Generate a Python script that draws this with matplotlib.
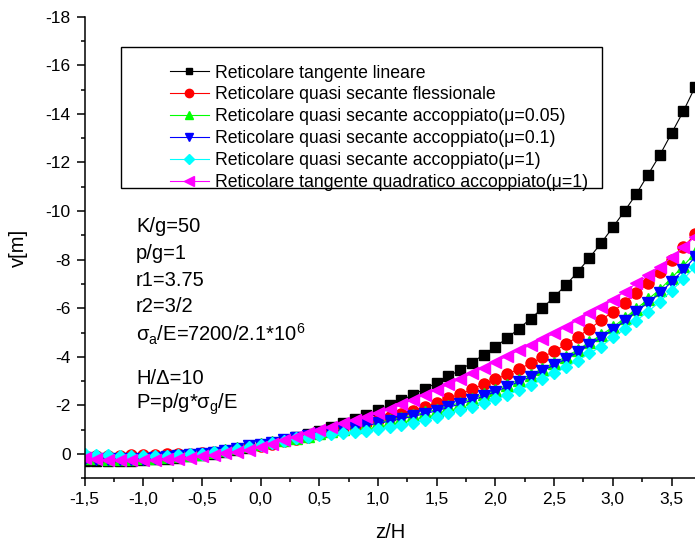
import matplotlib
matplotlib.use("Agg")
import matplotlib.pyplot as plt
from matplotlib.ticker import MultipleLocator, FuncFormatter
from matplotlib.patches import Rectangle

plt.rcParams['font.family'] = ['Liberation Sans', 'DejaVu Sans']

# z/H positions of the computed points
z = [-1.5, -1.4, -1.3, -1.2, -1.1, -1.0, -0.9, -0.8, -0.7, -0.6, -0.5, -0.4,
     -0.3, -0.2, -0.1, 0.0, 0.1, 0.2, 0.3, 0.4, 0.5, 0.6, 0.7, 0.8, 0.9,
     1.0, 1.1, 1.2, 1.3, 1.4, 1.5, 1.6, 1.7, 1.8, 1.9, 2.0, 2.1, 2.2, 2.3,
     2.4, 2.5, 2.6, 2.7, 2.8, 2.9, 3.0, 3.1, 3.2, 3.3, 3.4, 3.5, 3.6, 3.7]

# v[m] for each model
v_tan_lin = [0.29, 0.29, 0.29, 0.28, 0.27, 0.25, 0.22, 0.19, 0.15, 0.10, 0.05, -0.02, -0.09, -0.17, -0.26,
             -0.36, -0.46, -0.57, -0.69, -0.82, -0.96, -1.11, -1.27, -1.44, -1.62,
             -1.81, -2.01, -2.22, -2.44, -2.68, -2.93, -3.20, -3.46, -3.76, -4.09,
             -4.42, -4.77, -5.16, -5.57, -6.00, -6.47, -6.95, -7.49, -8.07, -8.68,
             -9.33, -10.0, -10.7, -11.5, -12.3, -13.2, -14.1, -15.1]
v_qs_fless = [0.10, 0.09, 0.08, 0.07, 0.06, 0.05, 0.04, 0.02, 0.00, -0.02, -0.05, -0.09, -0.14, -0.20, -0.27,
              -0.35, -0.43, -0.52, -0.62, -0.72, -0.83, -0.94, -1.05, -1.16, -1.28,
              -1.40, -1.53, -1.65, -1.78, -1.94, -2.11, -2.29, -2.47, -2.66, -2.87,
              -3.07, -3.28, -3.50, -3.73, -3.98, -4.24, -4.51, -4.83, -5.14, -5.51,
              -5.86, -6.23, -6.61, -7.03, -7.50, -7.98, -8.50, -9.05]
v_qs_mu005 = [0.16, 0.18, 0.19, 0.19, 0.19, 0.18, 0.16, 0.13, 0.09, 0.05, -0.01, -0.07, -0.15, -0.23, -0.32,
              -0.40, -0.49, -0.58, -0.67, -0.76, -0.85, -0.94, -1.03, -1.12, -1.21,
              -1.30, -1.39, -1.49, -1.60, -1.71, -1.83, -1.97, -2.12, -2.28, -2.45,
              -2.63, -2.84, -3.05, -3.26, -3.51, -3.75, -4.00, -4.29, -4.59, -4.90,
              -5.22, -5.59, -5.98, -6.37, -6.77, -7.25, -7.74, -8.27]
v_qs_mu01 = [0.17, 0.19, 0.20, 0.20, 0.20, 0.19, 0.17, 0.14, 0.10, 0.06, 0.00, -0.06, -0.14, -0.22, -0.31,
             -0.38, -0.47, -0.56, -0.65, -0.74, -0.83, -0.92, -1.01, -1.09, -1.18,
             -1.26, -1.35, -1.45, -1.55, -1.66, -1.78, -1.92, -2.06, -2.21, -2.38,
             -2.56, -2.77, -2.98, -3.18, -3.43, -3.66, -3.91, -4.19, -4.49, -4.79,
             -5.10, -5.47, -5.86, -6.23, -6.61, -7.09, -7.57, -8.10]
v_qs_mu1 = [0.00, 0.03, 0.05, 0.07, 0.08, 0.08, 0.08, 0.07, 0.05, 0.02, -0.02, -0.07, -0.13, -0.20, -0.28,
            -0.37, -0.46, -0.55, -0.64, -0.72, -0.78, -0.82, -0.86, -0.90, -0.95,
            -1.02, -1.10, -1.19, -1.29, -1.40, -1.53, -1.67, -1.81, -1.95, -2.09,
            -2.25, -2.43, -2.63, -2.84, -3.07, -3.32, -3.57, -3.84, -4.14, -4.42,
            -4.80, -5.13, -5.49, -5.86, -6.27, -6.72, -7.20, -7.70]
v_tan_quad = [0.16, 0.20, 0.23, 0.25, 0.25, 0.25, 0.24, 0.22, 0.19, 0.15, 0.10, 0.04, -0.03, -0.10, -0.18,
              -0.30, -0.42, -0.56, -0.70, -0.85, -0.99, -1.12, -1.26, -1.40, -1.53,
              -1.67, -1.85, -2.04, -2.24, -2.44, -2.65, -2.87, -3.09, -3.32, -3.56,
              -3.80, -4.03, -4.27, -4.49, -4.72, -4.97, -5.24, -5.51, -5.79, -6.06,
              -6.34, -6.68, -7.02, -7.35, -7.71, -8.10, -8.50, -8.95]

labels = ['Reticolare tangente lineare',
          'Reticolare quasi secante flessionale',
          'Reticolare quasi secante accoppiato(\u03bc=0.05)',
          'Reticolare quasi secante accoppiato(\u03bc=0.1)',
          'Reticolare quasi secante accoppiato(\u03bc=1)',
          'Reticolare tangente quadratico accoppiato(\u03bc=1)']

params = ['K/g=50', 'p/g=1', 'r1=3.75', 'r2=3/2',
          '\u03c3$_\\mathregular{a}$/E=7200/2.1*10$^\\mathregular{6}$',
          'H/\u0394=10', 'P=p/g*\u03c3$_\\mathregular{g}$/E']

W, H = 695, 548
fig = plt.figure(figsize=(W / 100, H / 100), dpi=100)
ax = fig.add_axes([84.5 / W, 1 - 478.3 / H, (W - 84.5) / W, (478.3 - 16.7) / H])

series = [(v_tan_lin, 'black', 's', 6.5),
          (v_qs_fless, 'red', 'o', 8),
          (v_qs_mu005, '#00ff00', '^', 8.5),
          (v_qs_mu01, 'blue', 'v', 8.5),
          (v_qs_mu1, 'cyan', 'D', 6.5),
          (v_tan_quad, 'magenta', '<', 9)]
for (v, c, m, ms), lab in zip(series, labels):
    ax.plot(z, v, color=c, marker=m, markersize=ms, lw=0.8, mec=c, mfc=c,
            label=lab)

ax.set_xlim(-1.5, 3.7)
ax.set_ylim(1, -18)
ax.xaxis.set_major_locator(MultipleLocator(0.5))
ax.xaxis.set_minor_locator(MultipleLocator(0.25))
ax.yaxis.set_major_locator(MultipleLocator(2))
ax.yaxis.set_minor_locator(MultipleLocator(1))
ax.xaxis.set_major_formatter(FuncFormatter(lambda x, p: ('%.1f' % x).replace('.', ',')))
ax.yaxis.set_major_formatter(FuncFormatter(lambda y, p: '%d' % round(y)))
ax.tick_params(which='major', direction='out', length=6, width=1.1, labelsize=12.5, pad=4)
ax.tick_params(which='minor', direction='out', length=3, width=1.1)
ax.spines['top'].set_visible(False)
ax.spines['right'].set_visible(False)
for s in ('left', 'bottom'):
    ax.spines[s].set_linewidth(1.1)

fig.text(390 / W, 1 - 533 / H, 'z/H', fontsize=14.5, ha='center', va='center')
fig.text(18 / W, 1 - 248 / H, 'v[m]', fontsize=14.5, ha='center', va='center', rotation=90)

# legend box as drawn in the original
fig.patches.append(Rectangle((120.7 / W, 1 - 187.7 / H), (601.7 - 120.7) / W, (187.7 - 46.7) / H,
                             transform=fig.transFigure, fill=False, lw=1.0, ec='black'))
ax.legend(loc='upper left', bbox_to_anchor=(170 / W, 1 - 64.5 / H), bbox_transform=fig.transFigure,
          frameon=False, fontsize=12.7, handlelength=2.2, handletextpad=0.35,
          labelspacing=0.28, borderpad=0, borderaxespad=0, markerscale=0.75)

ys = [226, 254, 281, 307, 334, 378, 404]
for t, yp in zip(params, ys):
    fig.text(136 / W, 1 - yp / H, t, fontsize=14.5, ha='left', va='center')

fig.savefig('out.png', dpi=100)
